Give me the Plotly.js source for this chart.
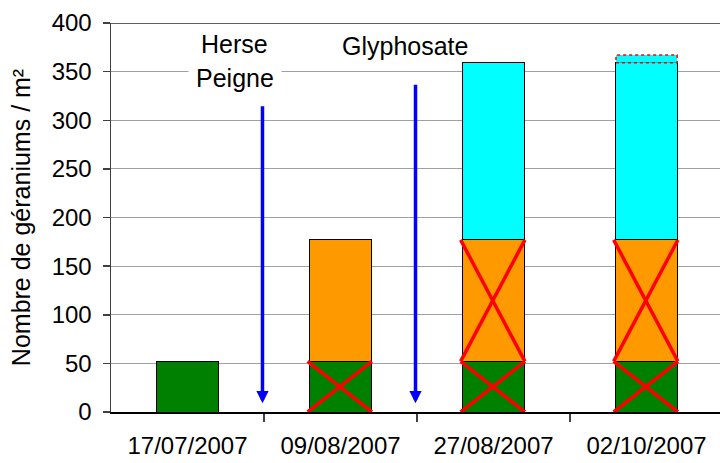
<!DOCTYPE html>
<html>
<head>
<meta charset="utf-8">
<script src="https://cdn.plot.ly/plotly-3.0.1.min.js"></script>
<style>html,body{margin:0;padding:0;background:#fff;}#chart{width:720px;height:463px;}</style>
</head>
<body>
<div id="chart"></div>
<script>
// ---- data ----
var dates = ['17/07/2007', '09/08/2007', '27/08/2007', '02/10/2007'];
var green  = [52, 52, 52, 52];
var orange = [0, 125, 125, 125];
var cyan   = [0, 0, 182, 182];
var extra  = [0, 0, 0, 8];          // dotted top segment
var greenCrossed  = [false, true, true, true];
var orangeCrossed = [false, false, true, true];
var treatments = ['Herse\nPeigne', 'Glyphosate'];
var arrowX   = [0.49, 1.49];
var arrowTop = [316, 338];
var arrowTip = [9, 9];

var xIdx = dates.map(function (d, i) { return i; });
var halfW = 0.2;
var FONT = 'Liberation Sans, Arial, sans-serif';

var traces = [
  {type: 'bar', x: xIdx, y: green,  marker: {color: '#008000', line: {color: '#000', width: 1}}, width: 0.4, hoverinfo: 'y'},
  {type: 'bar', x: xIdx, y: orange, marker: {color: '#FF9900', line: {color: '#000', width: 1}}, width: 0.4, hoverinfo: 'y'},
  {type: 'bar', x: xIdx, y: cyan,   marker: {color: '#00FFFF', line: {color: '#000', width: 1}}, width: 0.4, hoverinfo: 'y'}
];

// red crosses
var cx = [], cy = [];
function addCross(i, b, t) {
  var l = i - halfW - 0.015, r = i + halfW + 0.005;
  cx.push(l, r, null, l, r, null);
  cy.push(b, t, null, t, b, null);
}
xIdx.forEach(function (i) {
  if (greenCrossed[i]) addCross(i, 0, green[i]);
  if (orangeCrossed[i]) addCross(i, green[i], green[i] + orange[i]);
});
traces.push({type: 'scatter', mode: 'lines', x: cx, y: cy, line: {color: '#FF0000', width: 3.5}, hoverinfo: 'skip', connectgaps: false});

var shapes = [];
xIdx.forEach(function (i) {
  if (extra[i] > 0) {
    var base = green[i] + orange[i] + cyan[i];
    shapes.push({type: 'rect', xref: 'x', yref: 'y', x0: i - halfW, x1: i + halfW, y0: base, y1: base + extra[i],
      line: {color: '#FF0000', width: 1.5, dash: 'dot'}, fillcolor: '#00FFFF', layer: 'above'});
  }
});
shapes.push({type: 'line', xref: 'paper', yref: 'y', x0: 0, x1: 1, y0: 400, y1: 400, line: {color: '#606060', width: 2}});

var annotations = [];
arrowX.forEach(function (ax, k) {
  annotations.push({x: ax, y: arrowTip[k], xref: 'x', yref: 'y', axref: 'x', ayref: 'y', ax: ax, ay: arrowTop[k],
    text: '', showarrow: true, arrowhead: 2, arrowsize: 0.7, arrowwidth: 3.5, arrowcolor: '#0000FF'});
});
var lines0 = treatments[0].split('\n');
annotations.push({x: 0.31, y: 378, xref: 'x', yref: 'y', text: lines0[0], showarrow: false,
  font: {family: FONT, size: 25, color: '#000'}});
annotations.push({x: 0.31, y: 343, xref: 'x', yref: 'y', text: lines0[1], showarrow: false, bgcolor: '#fff', borderpad: 7,
  font: {family: FONT, size: 25, color: '#000'}});
annotations.push({x: 1.42, y: 376, xref: 'x', yref: 'y', text: treatments[1], showarrow: false,
  font: {family: FONT, size: 25, color: '#000'}});

var layout = {
  width: 720, height: 463,
  margin: {l: 111, r: 0, t: 23, b: 51},
  paper_bgcolor: '#fff', plot_bgcolor: '#fff',
  barmode: 'stack', showlegend: false,
  font: {family: FONT, color: '#000'},
  xaxis: {
    range: [-0.5, 3.48], tickvals: xIdx, ticktext: dates, ticks: '', showgrid: false, zeroline: false,
    showline: true, linecolor: '#000', linewidth: 1.5,
    tickfont: {size: 24, color: '#000'}, ticklabelstandoff: 12,
    minor: {tickvals: [0.5, 1.5, 2.5, 3.5], ticks: 'outside', ticklen: 8, tickcolor: '#404040', tickwidth: 1.5, showgrid: false}
  },
  yaxis: {
    range: [0, 400], dtick: 50, ticks: 'outside', ticklen: 7, tickcolor: '#404040', tickwidth: 1.5,
    showline: true, linecolor: '#404040', linewidth: 1.5,
    showgrid: true, gridcolor: '#A0A0A0', gridwidth: 1, zeroline: false,
    tickfont: {size: 24, color: '#000'}, ticklabelstandoff: 6,
    title: {text: 'Nombre de géraniums / m²', font: {family: FONT, size: 25, color: '#000'}, standoff: 14}
  },
  shapes: shapes,
  annotations: annotations
};

Plotly.newPlot('chart', traces, layout, {displayModeBar: false, staticPlot: true});
</script>
</body>
</html>
